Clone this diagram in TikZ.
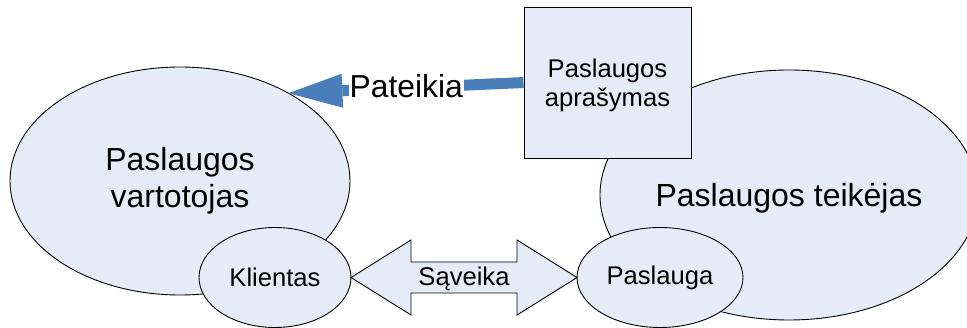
\documentclass[tikz,border=0pt]{standalone}
\usepackage{fontspec}
\setmainfont{Liberation Sans}
\usetikzlibrary{shapes.geometric,arrows.meta,calc}
\definecolor{shapefill}{HTML}{E6ECF7}
\definecolor{flowblue}{HTML}{4A7EBB}
\begin{document}
\begin{tikzpicture}[x=1pt,y=-1pt,
  oval/.style={ellipse, draw=black, line width=0.9pt, fill=shapefill,
    inner sep=0pt, outer sep=0pt},
  bigtxt/.style={font=\fontsize{32}{36.8}\selectfont, align=center},
  smalltxt/.style={font=\fontsize{25.6}{29.5}\selectfont, align=center},
  descbox/.style={rectangle, draw=black, line width=0.9pt, fill=shapefill,
    minimum width=167pt, minimum height=151pt, inner sep=0pt, outer sep=0pt},
  flow/.style={draw=flowblue, line width=11pt, shorten <=0.5pt,
    -{Triangle[length=54pt,width=34pt,line width=0pt]}},
  flowlabel/.style={fill=white, inner xsep=1pt, inner ysep=0pt,
    font=\fontsize{31.8}{36}\selectfont},
  twoway/.style={draw=black, line width=0.9pt, fill=shapefill, line join=miter}
]
\useasboundingbox (0,0) rectangle (967,328);
\begin{scope}
  \clip (0,0) rectangle (967,328);

  % consumer and provider
  \node[oval, bigtxt, minimum width=340pt, minimum height=228pt] (vart) at (180,181)
    {Paslaugos\\vartotojas};
  \node[oval, minimum width=378pt, minimum height=250pt] (teik) at (789,195) {};
  \node[bigtxt, inner sep=0pt] (teiktxt) at ($(teik.center)+(0,3.5)$) {Paslaugos teikėjas};

  % service description
  \node[descbox] (box) at (607.5,82.5) {};
  \node[smalltxt, inner sep=0pt] (boxtxt) at ($(box.center)+(0,3)$) {Paslaugos\\aprašymas};

  % client and service
  \node[oval, smalltxt, minimum width=152pt, minimum height=100pt] (kl) at (275,277.5) {Klientas};
  \node[oval, smalltxt, minimum width=166pt, minimum height=100pt] (pl) at (660,277.5) {Paslauga};

  % two-way interaction arrow
  \draw[twoway] (kl.east) -- ++(60,-37.5) -- ++(0,22)
    -- ($(pl.west)+(-60,-15.5)$) -- ++(0,-22) -- (pl.west)
    -- ++(-60,37.5) -- ++(0,-22)
    -- ($(kl.east)+(60,15.5)$) -- ++(0,22) -- cycle;
  \node[smalltxt, inner sep=0pt, anchor=base] (sav)
    at ($(kl.east)!0.5!(pl.west)+(0,8.5)$) {Sąveika};

  % publishing arrow
  \draw[flow] (box.west) -- (vart.39)
    node[flowlabel, pos=0.5, yshift=1.5pt] (pat) {Pateikia};
\end{scope}
\end{tikzpicture}
\end{document}
